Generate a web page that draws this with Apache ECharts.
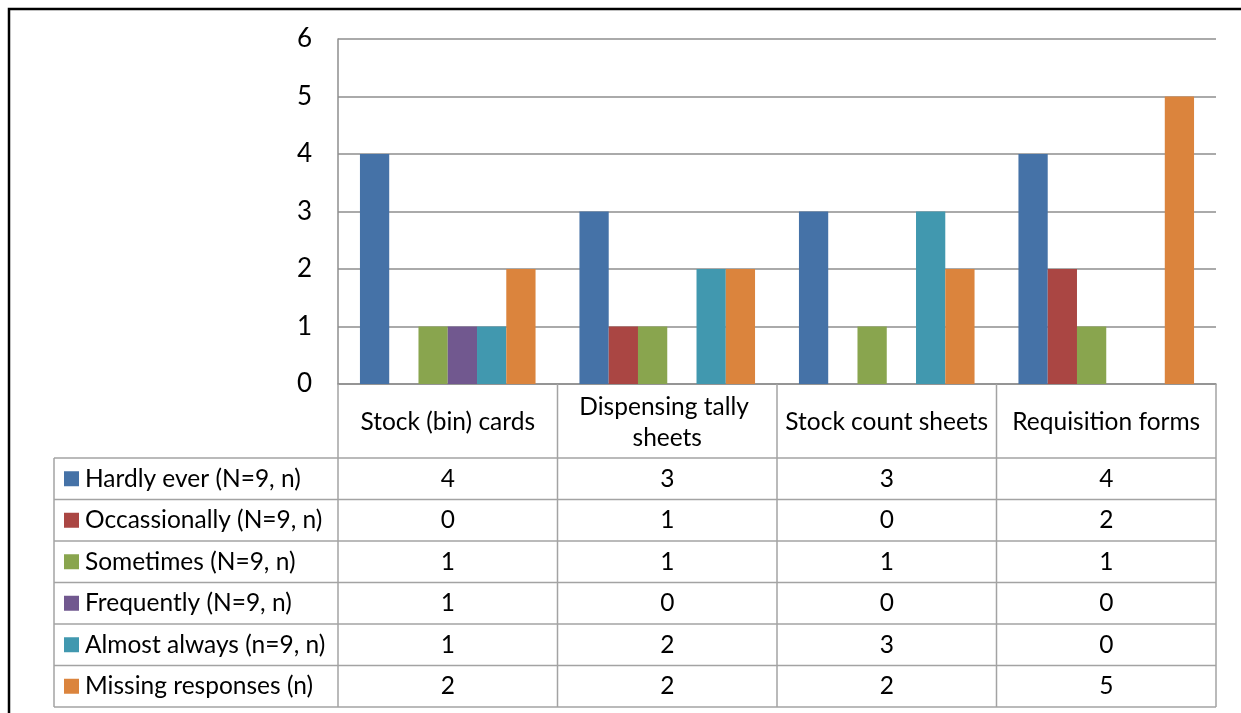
<!DOCTYPE html>
<html><head><meta charset="utf-8">
<script src="https://cdn.jsdelivr.net/npm/echarts@6/dist/echarts.min.js"></script>
<style>html,body{margin:0;padding:0;background:#fff}#c{width:1241px;height:713px}</style>
</head><body><div id="c"></div>
<script>
const categories = ['Stock (bin) cards','Dispensing tally sheets','Stock count sheets','Requisition forms'];
const seriesNames = ['Hardly ever (N=9, n)','Occassionally (N=9, n)','Sometimes (N=9, n)','Frequently (N=9, n)','Almost always (n=9, n)','Missing responses (n)'];
const hardlyEver = [4,3,3,4];
const occasionally = [0,1,0,2];
const sometimes = [1,1,1,1];
const frequently = [1,0,0,0];
const almostAlways = [1,2,3,0];
const missingResponses = [2,2,2,5];
const yMin = 0, yMax = 6, yStep = 1;
const seriesValues = [hardlyEver, occasionally, sometimes, frequently, almostAlways, missingResponses];
const colors = ['#4572A7','#AA4643','#89A54E','#71588F','#4198AF','#DB843D'];

const FONT = 'Lato';
const FS = 24.5;
const GRID = {left: 338, top: 39, width: 878, height: 345};
const GRAY = '#8E8E8E';
const TGRAY = '#A3A3A3';

const chart = echarts.init(document.getElementById('c'), null, {renderer: 'canvas'});
chart.setOption({
  animation: false,
  backgroundColor: '#fff',
  grid: {left: GRID.left, top: GRID.top, width: GRID.width, height: GRID.height, containLabel: false},
  xAxis: {
    type: 'category', data: categories,
    axisLine: {show: true, lineStyle: {color: GRAY, width: 1.5}},
    axisTick: {show: false},
    axisLabel: {
      color: '#000', fontFamily: FONT, fontSize: FS, margin: 38.5,
      verticalAlign: 'middle', lineHeight: 31, width: 215, overflow: 'break', interval: 0
    }
  },
  yAxis: {
    type: 'value', min: yMin, max: yMax, interval: yStep,
    axisLine: {show: true, lineStyle: {color: GRAY, width: 1.5}},
    axisTick: {show: false},
    axisLabel: {color: '#000', fontFamily: FONT, fontSize: 26, margin: 26},
    splitLine: {show: true, lineStyle: {color: GRAY, width: 1.5}}
  },
  series: seriesNames.map((name, i) => ({
    name, type: 'bar', data: seriesValues[i],
    barGap: '0%', barCategoryGap: '20%',
    itemStyle: {color: colors[i]}
  }))
});

// data table below the plot, placed from the axes
function buildTable() {
  const zeroY = chart.convertToPixel({yAxisIndex: 0}, 0);
  const c0 = chart.convertToPixel({xAxisIndex: 0}, 0);
  const c1 = chart.convertToPixel({xAxisIndex: 0}, 1);
  const band = c1 - c0;
  const n = categories.length;
  const left = c0 - band / 2;
  const right = left + band * n;
  const headerH = 74, rowH = 41.5, tableLeft = 54;
  const headBottom = zeroY + headerH;
  const tableBottom = headBottom + rowH * seriesNames.length;
  const g = [];
  const line = (x1, y1, x2, y2) => g.push({type: 'line', shape: {x1, y1, x2, y2}, style: {stroke: TGRAY, lineWidth: 1.5}, z: 10, silent: true});
  for (let r = 0; r <= seriesNames.length; r++) line(tableLeft, headBottom + r * rowH, right, headBottom + r * rowH);
  line(tableLeft, headBottom, tableLeft, tableBottom);
  line(left, zeroY, left, tableBottom);
  for (let i = 1; i <= n; i++) line(left + band * i, zeroY, left + band * i, tableBottom);
  seriesNames.forEach((name, r) => {
    const cy = headBottom + rowH * r + rowH / 2;
    g.push({type: 'rect', shape: {x: 64, y: cy - 7.5, width: 15, height: 15}, style: {fill: colors[r]}, z: 11});
    g.push({type: 'text', x: 85, y: cy, style: {text: name, font: FS + 'px ' + FONT, fill: '#000', textAlign: 'left', textVerticalAlign: 'middle'}, z: 11});
    seriesValues[r].forEach((v, ci) => {
      g.push({type: 'text', x: left + band * ci + band / 2, y: cy, style: {text: String(v), font: FS + 'px ' + FONT, fill: '#000', textAlign: 'center', textVerticalAlign: 'middle'}, z: 11});
    });
  });
  g.push({type: 'rect', shape: {x: 9, y: 9, width: 1280, height: 760}, style: {fill: 'none', stroke: '#000', lineWidth: 2.5}, z: 20, silent: true});
  chart.setOption({graphic: g});
}
buildTable();
</script>
</body></html>
